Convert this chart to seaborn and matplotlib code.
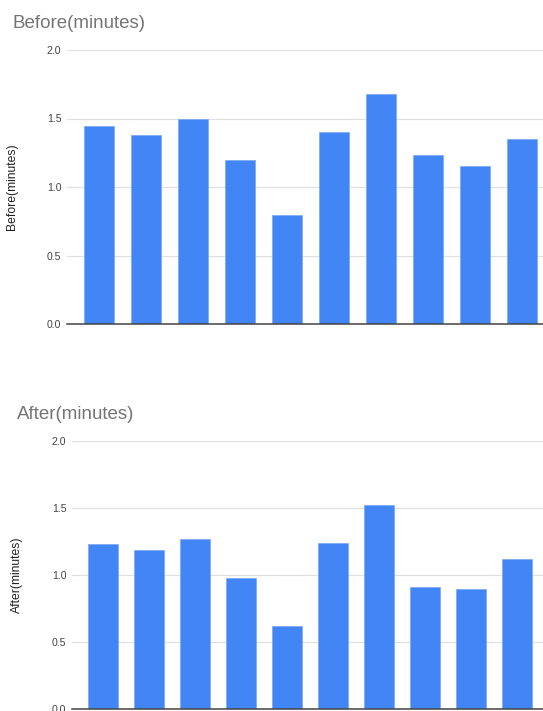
import matplotlib
matplotlib.use("Agg")
import matplotlib.pyplot as plt
import seaborn as sns
import pandas as pd

# Timing per session, in minutes
sessions = ["1", "2", "3", "4", "5", "6", "7", "8", "9", "10"]
before_minutes = [1.445, 1.376, 1.498, 1.199, 0.797, 1.403, 1.678, 1.235, 1.152, 1.347]
after_minutes = [1.229, 1.187, 1.271, 0.975, 0.617, 1.236, 1.525, 0.910, 0.893, 1.117]
y_ticks = [0.0, 0.5, 1.0, 1.5, 2.0]

sns.set_theme(style="white")
plt.rcParams["font.family"] = ["Liberation Sans", "DejaVu Sans"]

BAR = "#4285F4"
W, H = 543, 711
fig = plt.figure(figsize=(W / 100, H / 100), dpi=100)


def panel(rect, values, label, xlim):
    ax = fig.add_axes(rect)
    df = pd.DataFrame({"session": sessions, label: values})
    sns.barplot(data=df, x="session", y=label, color=BAR, width=0.65,
                saturation=1, edgecolor="#79a8f7", linewidth=0.5, ax=ax, zorder=3)
    ax.set_ylim(0, 2.0)
    ax.set_xlim(*xlim)
    ax.set_yticks(y_ticks)
    ax.set_yticklabels([f"{t:.1f}" for t in y_ticks])
    ax.set_xticks([])
    ax.set_xlabel("")
    ax.set_ylabel(label, fontsize=8.7, color="#222222")
    ax.tick_params(axis="y", length=0, pad=4, labelsize=7.6, labelcolor="#444444")
    ax.grid(axis="y", color="#e0e0e0", linewidth=0.9, zorder=0)
    for s in ["top", "right", "left"]:
        ax.spines[s].set_visible(False)
    ax.spines["bottom"].set_color("#444444")
    ax.spines["bottom"].set_linewidth(1.1)
    ax.spines["bottom"].set_zorder(4)
    return ax


# Before panel
ax1 = panel([67 / W, 1 - 324 / H, (W - 67) / W, (324 - 50) / H],
            before_minutes, "Before(minutes)", (-0.677, 9.45))
ax1.yaxis.set_label_coords(-(67 - 18) / (W - 67), 0.5)
fig.text(12.5 / W, 1 - 28 / H, "Before(minutes)", fontsize=13.5,
         color="#757575", ha="left", va="baseline")

# After panel
ax2 = panel([72 / W, 1 - 709 / H, (W - 72) / W, (709 - 441) / H],
            after_minutes, "After(minutes)", (-0.667, 9.566))
ax2.yaxis.set_label_coords(-(72 - 23) / (W - 72), 0.5)
fig.text(16.5 / W, 1 - 419 / H, "After(minutes)", fontsize=13.5,
         color="#757575", ha="left", va="baseline")

fig.savefig("out.png", dpi=100, facecolor="white")
